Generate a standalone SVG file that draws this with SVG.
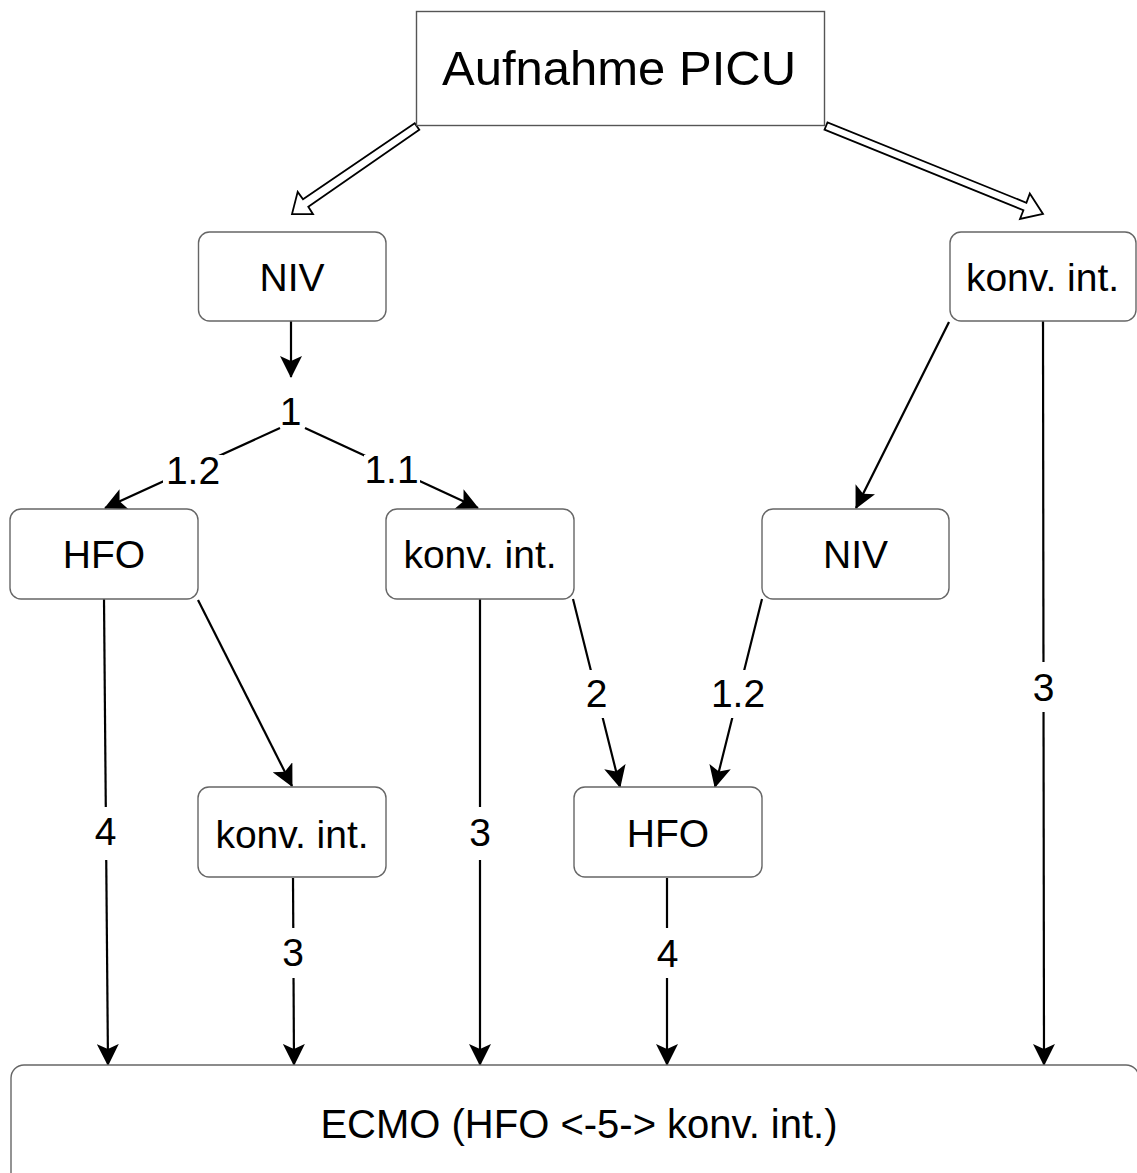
<svg xmlns="http://www.w3.org/2000/svg" width="1137" height="1173" viewBox="0 0 1137 1173">
<style>
.box{fill:#fff;stroke:#666;stroke-width:1.4}
.t{font-family:"Liberation Sans",Arial,sans-serif;font-size:39px;fill:#000;text-anchor:middle}
.ln{stroke:#000;stroke-width:2.2;fill:none}
.arr{marker-end:url(#ah)}
.gap{fill:#fff}
.hollow{fill:#fff;stroke:#000;stroke-width:1.8;stroke-linejoin:miter}
</style>
<defs>
<marker id="ah" viewBox="0 0 22 22" refX="21" refY="11" markerWidth="22" markerHeight="22" orient="auto" markerUnits="userSpaceOnUse">
<path d="M0,0 L22,11 L0,22 L5,11 Z" fill="#000"/>
</marker>
</defs>
<rect width="1137" height="1173" fill="#fff"/>

<g id="connectors">
<polygon class="hollow" points="419.3,129.8 308.3,206.7 313.0,214.2 292,214 297.7,191.9 303.0,199.3 414.7,123.2"/>
<polygon class="hollow" points="824.5,129.7 1023.4,210.2 1020.0,219.0 1043,214 1029.8,193.6 1026.4,202.8 827.5,122.3"/>
<line class="ln arr" x1="291" y1="321" x2="291" y2="377"/>
<line class="ln arr" x1="280" y1="428" x2="105" y2="508"/>
<line class="ln arr" x1="305" y1="428" x2="478" y2="508"/>
<line class="ln arr" x1="949" y1="322" x2="856" y2="508"/>
<line class="ln arr" x1="1043" y1="321" x2="1044" y2="1065"/>
<line class="ln arr" x1="104" y1="599" x2="108" y2="1065"/>
<line class="ln arr" x1="198" y1="600" x2="292" y2="786"/>
<line class="ln arr" x1="480" y1="599" x2="480" y2="1065"/>
<line class="ln arr" x1="573" y1="599" x2="620" y2="787"/>
<line class="ln arr" x1="762" y1="599" x2="715" y2="787"/>
<line class="ln arr" x1="293" y1="878" x2="294" y2="1065"/>
<line class="ln arr" x1="667" y1="878" x2="667" y2="1065"/>

<text class="t" x="290.5" y="425">1</text>
<rect class="gap" x="163" y="455" width="60" height="29"/>
<text class="t" x="193" y="484">1.2</text>
<rect class="gap" x="364" y="455" width="56" height="29"/>
<text class="t" x="391.5" y="483">1.1</text>
<rect class="gap" x="584" y="670" width="26" height="48"/>
<text class="t" x="596.5" y="707">2</text>
<rect class="gap" x="710" y="670" width="58" height="48"/>
<text class="t" x="738" y="707">1.2</text>
<rect class="gap" x="1030" y="662" width="28" height="50"/>
<text class="t" x="1043.5" y="701">3</text>
<rect class="gap" x="92" y="807" width="28" height="53"/>
<text class="t" x="105.5" y="845">4</text>
<rect class="gap" x="466" y="807" width="28" height="53"/>
<text class="t" x="480" y="846">3</text>
<rect class="gap" x="280" y="928" width="28" height="50"/>
<text class="t" x="293" y="966">3</text>
<rect class="gap" x="654" y="928" width="28" height="50"/>
<text class="t" x="667.5" y="967">4</text>
</g>

<g id="aufnahme">
<rect x="416.5" y="11.5" width="408" height="114" fill="#fff" stroke="#555" stroke-width="1.4"/>
<text class="t" x="619" y="85" style="font-size:49px">Aufnahme PICU</text>
</g>
<g id="niv1">
<rect class="box" x="198.5" y="232" width="187.5" height="89" rx="11"/>
<text class="t" x="292" y="291">NIV</text>
</g>
<g id="konv1">
<rect class="box" x="950" y="232" width="186" height="89" rx="11"/>
<text class="t" x="1042.5" y="291">konv. int.</text>
</g>
<g id="hfo1">
<rect class="box" x="10" y="509" width="188" height="90" rx="11"/>
<text class="t" x="104" y="568">HFO</text>
</g>
<g id="konv2">
<rect class="box" x="386" y="509" width="188" height="90" rx="11"/>
<text class="t" x="480" y="568">konv. int.</text>
</g>
<g id="niv2">
<rect class="box" x="762" y="509" width="187" height="90" rx="11"/>
<text class="t" x="855.5" y="568">NIV</text>
</g>
<g id="konv3">
<rect class="box" x="198" y="787" width="188" height="90" rx="11"/>
<text class="t" x="292" y="848">konv. int.</text>
</g>
<g id="hfo2">
<rect class="box" x="574" y="787" width="188" height="90" rx="11"/>
<text class="t" x="668" y="847">HFO</text>
</g>
<g id="ecmo">
<rect class="box" x="11" y="1065" width="1128" height="130" rx="13"/>
<text class="t" x="579" y="1138" style="font-size:40px">ECMO (HFO &lt;-5-&gt; konv. int.)</text>
</g>
</svg>
